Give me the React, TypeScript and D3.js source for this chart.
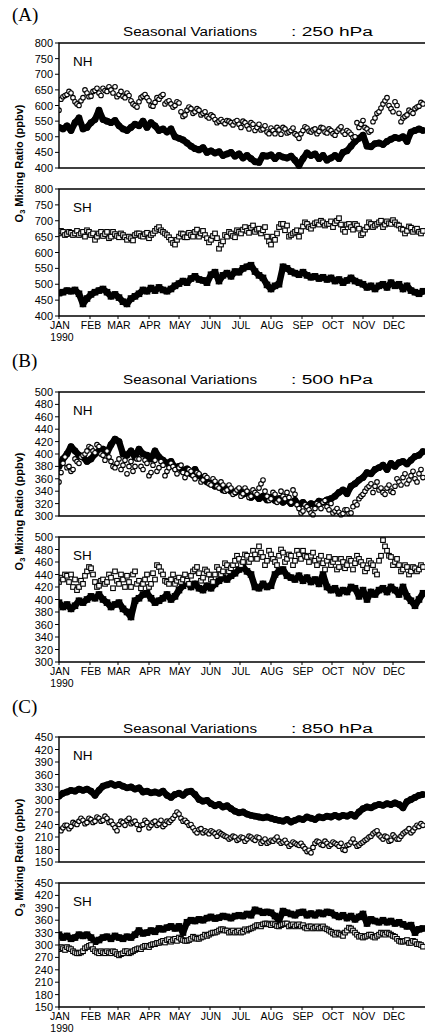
import React from "react";
import * as d3 from "d3";

// Sample days (day 0 = Jan 1 1990)
const days: number[] = d3.range(0, 365, 4);
const midDays: number[] = d3.range(2, 365, 4);

const monthStarts = [0, 31, 59, 90, 120, 151, 181, 212, 243, 273, 304, 334];
const monthLabels = ["JAN", "FEB", "MAR", "APR", "MAY", "JUN", "JUL", "AUG", "SEP", "OCT", "NOV", "DEC"];

// (A) 250 hPa
const aNHopen = [585,628,635,640,612,600,625,640,630,648,640,655,645,650,660,635,630,640,615,600,612,630,625,600,610,620,635,612,605,600,608,565,585,590,580,585,575,565,570,555,550,548,552,545,548,540,550,535,545,520,540,525,515,528,510,522,530,512,520,510,495,520,528,515,525,518,528,512,520,505,525,515,520,508,500,530,552,525,520,560,580,605,625,590,612,575,560,570,580,590,598,605];
const aNHopenMid = [620,632,645,625,605,615,650,628,645,655,632,648,660,640,628,645,625,632,605,595,625,635,615,598,625,630,605,615,595,612,580,570,595,575,590,570,580,560,565,545,555,542,550,538,552,530,545,525,540,530,522,535,510,520,530,508,525,515,528,505,510,532,518,522,510,530,515,525,510,518,532,508,515,498,545,540,530,515,548,575,592,615,600,580,600,548,565,585,575,595,610];
const aNHfilled = [530,525,535,520,545,560,525,530,545,555,585,555,550,545,552,535,525,520,530,540,535,550,530,545,535,520,525,515,525,500,495,490,480,470,462,458,465,450,455,448,452,440,445,450,438,445,432,440,430,420,418,440,438,442,430,440,435,432,438,425,408,430,448,440,445,430,440,425,432,440,430,450,455,470,485,495,505,470,468,478,480,475,485,492,498,495,500,485,515,520,525,520];
const aSHopen = [660,665,658,662,660,655,665,670,655,640,660,652,665,650,658,648,655,640,645,655,660,650,662,655,668,680,665,655,640,625,650,658,648,655,665,650,668,645,640,660,612,635,650,660,648,665,672,668,678,665,675,670,650,625,640,680,690,685,655,665,650,682,690,675,692,688,695,690,698,692,708,672,688,680,690,675,660,680,690,685,695,680,698,690,695,685,672,668,678,672,665,668];
const aSHopenMid = [668,655,665,655,668,660,650,665,660,650,665,658,645,665,652,660,648,650,638,660,652,658,645,660,675,670,660,648,630,640,660,648,662,650,672,660,655,632,652,645,625,655,665,652,670,660,680,662,685,672,660,680,635,650,660,690,670,650,660,670,668,695,680,685,695,700,685,690,680,700,688,665,690,672,685,655,672,695,680,690,700,688,692,702,688,675,660,682,665,675,660];
const aSHfilled = [472,475,480,478,482,470,438,455,468,475,480,485,475,462,468,458,445,438,455,462,470,482,478,488,480,490,482,478,485,495,502,510,505,518,525,515,512,505,530,538,510,528,535,525,540,538,550,555,560,540,528,520,498,485,495,500,555,550,540,535,530,538,528,522,525,518,522,515,520,510,515,505,512,520,510,505,500,490,495,485,495,500,490,505,495,500,485,495,480,475,470,478];

// (B) 500 hPa
const bNHfilled = [380,392,400,412,405,398,395,388,392,400,405,408,402,415,424,420,400,398,405,395,408,400,398,392,405,395,390,385,388,378,380,372,376,368,375,365,360,355,352,348,350,342,345,340,338,342,335,338,330,334,328,332,326,330,325,328,322,326,320,325,318,322,316,320,318,324,322,326,328,332,338,342,336,348,352,358,362,370,368,375,378,382,375,385,380,386,388,384,390,396,398,404];
const bNHopen = [355,385,378,372,392,385,398,405,410,402,412,398,405,388,378,392,382,368,388,380,392,375,385,370,390,378,382,372,385,375,378,370,368,372,360,368,358,362,350,356,345,350,342,345,338,345,336,340,332,338,345,358,332,328,335,326,332,338,322,335,312,308,315,305,312,318,322,315,320,308,306,304,310,305,322,328,335,345,352,348,342,338,345,340,348,355,362,352,365,360,368,362];
const bNHopenMid = [370,395,380,375,388,395,400,412,405,415,400,390,395,380,385,375,390,380,372,392,380,390,365,382,372,388,365,378,380,368,382,362,375,365,370,355,365,352,360,348,355,340,350,335,342,332,345,330,342,335,352,340,325,338,322,340,328,330,342,318,305,318,310,302,320,312,325,310,305,312,302,310,304,315,318,332,340,348,338,355,345,335,350,338,360,350,368,358,372,355,375];
const bSHopen = [428,432,438,440,432,420,425,445,450,428,422,432,428,435,445,425,432,438,420,445,430,425,440,425,432,452,440,428,432,425,435,432,430,438,448,442,435,445,432,440,448,445,455,450,462,465,460,470,465,472,485,468,462,472,460,470,475,465,470,462,472,478,468,470,462,465,458,462,455,465,452,460,455,462,458,465,455,450,458,445,462,495,478,468,460,455,448,452,445,450,448,452];
const bSHopenMid = [435,440,428,420,415,430,438,452,440,420,430,425,440,418,430,440,420,428,440,425,418,432,420,442,455,445,430,425,440,430,428,440,425,445,452,430,448,440,428,452,440,458,445,455,470,455,472,460,478,465,475,455,478,465,455,480,460,472,455,478,465,470,460,475,455,470,448,468,460,448,465,450,465,448,470,460,445,462,455,440,470,485,470,455,465,445,455,440,452,445,455];
const bSHfilled = [395,388,392,385,390,398,395,400,405,402,408,400,395,388,392,395,385,380,372,398,402,408,410,402,395,398,402,408,400,405,415,422,428,420,425,418,415,422,418,425,430,435,432,438,442,448,452,445,440,420,418,425,420,422,440,445,448,438,435,432,438,430,435,428,432,425,440,420,415,418,410,415,412,420,418,405,415,400,412,408,415,418,412,420,415,408,420,405,398,390,400,410];

// (C) 850 hPa
const cNHfilled = [308,315,318,322,320,325,322,325,320,310,322,332,335,338,334,336,332,328,330,325,328,318,320,316,318,315,320,310,305,312,315,310,318,320,312,300,296,298,290,285,288,282,285,278,272,268,270,265,262,260,258,256,258,255,252,250,248,252,246,250,254,252,258,255,252,258,256,260,258,262,258,262,260,264,260,270,278,282,280,285,288,286,290,288,292,288,280,295,300,305,310,312];
const cNHopen = [228,232,238,235,242,248,250,245,252,248,255,250,255,248,232,240,245,250,242,248,228,240,245,238,248,242,235,248,250,262,265,248,245,240,225,228,220,222,225,218,222,215,210,208,210,205,208,205,210,202,208,200,195,202,205,200,198,195,192,195,190,188,175,172,195,198,190,195,192,195,188,180,190,198,195,190,198,205,212,222,215,205,210,202,210,205,218,225,220,232,235,238];
const cNHopenMid = [225,238,230,245,240,255,242,255,245,258,248,260,245,240,225,248,238,255,245,240,238,250,232,245,238,250,240,245,255,270,255,250,238,232,220,230,225,218,222,212,218,212,205,212,202,210,200,212,205,210,195,205,198,200,210,195,202,188,198,192,195,182,178,185,200,192,200,188,198,192,195,178,192,205,188,195,202,210,218,225,210,212,200,215,205,212,222,230,225,238,242];
const cSHfilled = [325,318,322,315,318,325,322,325,318,308,312,318,320,315,322,318,315,320,318,325,335,328,330,335,332,340,338,342,345,340,345,330,355,360,358,362,360,365,368,364,366,370,368,365,370,372,370,375,372,385,382,378,380,378,370,360,382,378,375,372,378,380,372,376,372,378,375,380,378,372,368,372,365,370,362,368,375,352,362,358,355,360,355,358,352,355,350,345,348,330,338,340];
const cSHopen = [290,292,295,290,282,280,285,295,300,285,280,282,285,280,283,275,280,285,282,288,292,295,298,300,302,305,310,312,308,315,318,312,310,315,318,315,320,322,328,330,335,338,335,332,330,335,332,335,340,345,348,350,352,348,350,345,350,352,348,345,350,348,340,345,342,340,345,338,332,325,328,322,335,340,330,320,318,322,325,318,325,328,330,325,320,310,308,312,305,308,302,296];
const cSHopenMid = [295,288,292,285,280,282,292,298,290,282,285,280,282,285,278,278,285,280,285,290,290,298,295,302,305,308,306,314,312,310,315,310,312,320,315,318,325,325,330,332,338,335,330,335,332,330,338,338,342,348,345,352,350,352,346,348,352,345,350,348,345,342,345,340,345,342,340,335,328,330,325,330,342,335,325,322,320,325,320,322,330,325,328,322,315,308,310,305,310,302,300];

// y ticks per level
const ticksA = d3.range(400, 801, 50);
const ticksB = d3.range(300, 501, 20);
const ticksC = d3.range(150, 451, 30);

const FONT = "Arial, 'Liberation Sans', Helvetica, sans-serif";
const X0 = 59;
const X1 = 424;

type SeriesSpec = { values: number[]; mid?: number[]; filled: boolean; shape: "circle" | "square" };

function pointsOf(s: SeriesSpec): [number, number][] {
  const pts: [number, number][] = [];
  s.values.forEach((v, i) => {
    pts.push([days[i], v]);
    if (s.mid && i < s.mid.length) pts.push([midDays[i], s.mid[i]]);
  });
  return pts;
}

function SubPlot(props: {
  top: number;
  bottom: number;
  domain: [number, number];
  ticks: number[];
  label: string;
  series: SeriesSpec[];
  showMonths: boolean;
}) {
  const { top, bottom, domain, ticks, label, series, showMonths } = props;
  const x = d3.scaleLinear().domain([0, 365]).range([X0, X1]);
  const y = d3.scaleLinear().domain(domain).range([bottom, top]);
  const line = d3
    .line<[number, number]>()
    .x((d) => x(d[0]))
    .y((d) => y(d[1]));
  const clipId = `clip-${top}`;
  return (
    <g>
      <defs>
        <clipPath id={clipId}>
          <rect x={X0} y={top - 3} width={X1 - X0 + 4} height={bottom - top + 6} />
        </clipPath>
      </defs>
      <g clipPath={`url(#${clipId})`}>
        {series.map((s, si) => {
          const pts = pointsOf(s);
          return s.filled ? (
            <g key={si}>
              <path d={line(pts) || ""} fill="none" stroke="#000" strokeWidth={6.5} strokeLinejoin="round" />
              {pts.map((p, i) =>
                s.shape === "circle" ? (
                  <circle key={i} cx={x(p[0])} cy={y(p[1])} r={3.4} fill="#000" />
                ) : (
                  <rect key={i} x={x(p[0]) - 3.3} y={y(p[1]) - 3.3} width={6.6} height={6.6} fill="#000" />
                )
              )}
            </g>
          ) : (
            <g key={si}>
              {pts.map((p, i) =>
                s.shape === "circle" ? (
                  <circle key={i} cx={x(p[0])} cy={y(p[1])} r={2.3} fill="#fff" stroke="#000" strokeWidth={1.1} />
                ) : (
                  <rect key={i} x={x(p[0]) - 2.3} y={y(p[1]) - 2.3} width={4.6} height={4.6} fill="#fff" stroke="#000" strokeWidth={1.1} />
                )
              )}
            </g>
          );
        })}
      </g>
      <path
        d={`M${X1 + 3},${top}H${X0}V${bottom}H${X1 + 3}`}
        fill="none"
        stroke="#000"
        strokeWidth={1.4}
      />
      {ticks.map((t) => (
        <g key={t}>
          <line x1={X0 - 4} x2={X0} y1={y(t)} y2={y(t)} stroke="#000" strokeWidth={1} />
          <text x={53} y={y(t) + 4} textAnchor="end" fontSize={11} fontFamily={FONT}>
            {t}
          </text>
        </g>
      ))}
      <text x={73} y={top + 23} fontSize={13.5} fontFamily={FONT}>
        {label}
      </text>
      {showMonths && (
        <g>
          {monthStarts.map((m, i) => (
            <g key={m}>
              <line x1={x(m)} x2={x(m)} y1={bottom} y2={bottom + 3} stroke="#000" strokeWidth={1} />
              <text x={x(m) + 1} y={bottom + 13} textAnchor="middle" fontSize={10.5} fontFamily={FONT}>
                {monthLabels[i]}
              </text>
            </g>
          ))}
          <text x={62} y={bottom + 25} textAnchor="middle" fontSize={10.5} fontFamily={FONT}>
            1990
          </text>
        </g>
      )}
    </g>
  );
}

function Panel(props: {
  letter: string;
  letterY: number;
  titleY: number;
  level: string;
  nhTop: number;
  nhBottom: number;
  shTop: number;
  shBottom: number;
  domain: [number, number];
  ticks: number[];
  nh: SeriesSpec[];
  sh: SeriesSpec[];
}) {
  const p = props;
  const labelCenter = (p.nhBottom + p.shTop) / 2 - 15;
  return (
    <g>
      <text x={12} y={p.letterY} fontSize={19} fontFamily="'Liberation Serif', 'Times New Roman', serif">
        {p.letter}
      </text>
      <text x={123} y={p.titleY} fontSize={12.5} fontFamily={FONT} textLength={134} lengthAdjust="spacingAndGlyphs">
        Seasonal Variations
      </text>
      <text x={291} y={p.titleY} fontSize={12.5} fontFamily={FONT} textLength={82} lengthAdjust="spacingAndGlyphs">
        {`: ${p.level} hPa`}
      </text>
      <text
        transform={`translate(23,${labelCenter}) rotate(-90)`}
        textAnchor="middle"
        fontSize={11}
        fontWeight="bold"
        fontFamily={FONT}
      >
        O<tspan fontSize={7.5} dy={2}>3</tspan>
        <tspan dy={-2}> Mixing Ratio (ppbv)</tspan>
      </text>
      <SubPlot top={p.nhTop} bottom={p.nhBottom} domain={p.domain} ticks={p.ticks} label="NH" series={p.nh} showMonths={false} />
      <SubPlot top={p.shTop} bottom={p.shBottom} domain={p.domain} ticks={p.ticks} label="SH" series={p.sh} showMonths={true} />
    </g>
  );
}

export default function App() {
  return (
    <div style={{ position: "absolute", left: 0, top: 0 }}>
      <svg width={425} height={1034} viewBox="0 0 425 1034" style={{ display: "block", background: "#fff" }}>
        <rect x={0} y={0} width={425} height={1034} fill="#fff" />
        <Panel
          letter="(A)"
          letterY={21}
          titleY={35.5}
          level="250"
          nhTop={43}
          nhBottom={168}
          shTop={189}
          shBottom={316}
          domain={[400, 800]}
          ticks={ticksA}
          nh={[
            { values: aNHfilled, filled: true, shape: "circle" },
            { values: aNHopen, mid: aNHopenMid, filled: false, shape: "circle" },
          ]}
          sh={[
            { values: aSHfilled, filled: true, shape: "square" },
            { values: aSHopen, mid: aSHopenMid, filled: false, shape: "square" },
          ]}
        />
        <Panel
          letter="(B)"
          letterY={367}
          titleY={384}
          level="500"
          nhTop={392}
          nhBottom={516}
          shTop={537}
          shBottom={662}
          domain={[300, 500]}
          ticks={ticksB}
          nh={[
            { values: bNHfilled, filled: true, shape: "circle" },
            { values: bNHopen, mid: bNHopenMid, filled: false, shape: "circle" },
          ]}
          sh={[
            { values: bSHfilled, filled: true, shape: "square" },
            { values: bSHopen, mid: bSHopenMid, filled: false, shape: "square" },
          ]}
        />
        <Panel
          letter="(C)"
          letterY={713}
          titleY={733}
          level="850"
          nhTop={737}
          nhBottom={862}
          shTop={883}
          shBottom={1007}
          domain={[150, 450]}
          ticks={ticksC}
          nh={[
            { values: cNHfilled, filled: true, shape: "circle" },
            { values: cNHopen, mid: cNHopenMid, filled: false, shape: "circle" },
          ]}
          sh={[
            { values: cSHfilled, filled: true, shape: "square" },
            { values: cSHopen, mid: cSHopenMid, filled: false, shape: "square" },
          ]}
        />
      </svg>
    </div>
  );
}
